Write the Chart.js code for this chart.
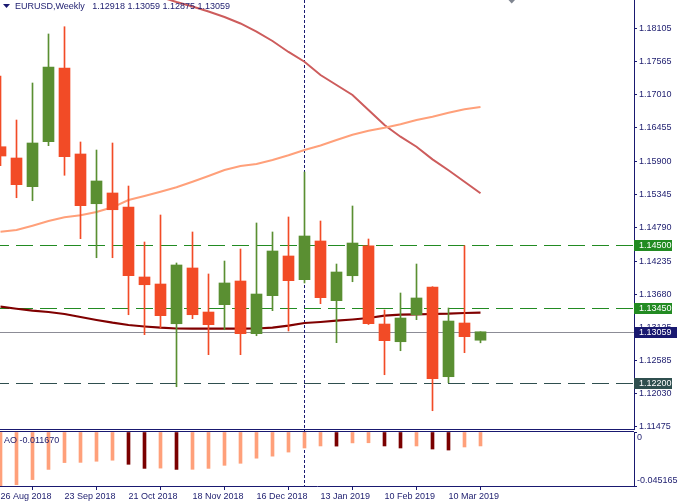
<!DOCTYPE html>
<html><head><meta charset="utf-8">
<script src="https://cdn.jsdelivr.net/npm/chart.js@4.4.1/dist/chart.umd.min.js"></script>
<style>
html,body{margin:0;padding:0;background:#fff;}
#wrap{position:relative;width:678px;height:504px;overflow:hidden;background:#fff;}
#c1{position:absolute;left:0;top:0;}
#c2{position:absolute;left:0;top:430px;}
.t{position:absolute;font-family:"Liberation Sans",Arial,sans-serif;font-size:9px;color:#1c1c6e;white-space:pre;line-height:11px;}
</style></head><body>
<div id="wrap">
<canvas id="c1" width="678" height="430"></canvas>
<canvas id="c2" width="678" height="74"></canvas>
<div class="t" style="left:15px;top:1px;">EURUSD,Weekly   1.12918 1.13059 1.12875 1.13059</div>
<div class="t" style="left:4px;top:435px;">AO -0.011670</div>
</div>
<script>
// ---- data ----
const weeks = ["26 Aug 2018","2 Sep 2018","9 Sep 2018","16 Sep 2018","23 Sep 2018","30 Sep 2018","7 Oct 2018","14 Oct 2018","21 Oct 2018","28 Oct 2018","4 Nov 2018","11 Nov 2018","18 Nov 2018","25 Nov 2018","2 Dec 2018","9 Dec 2018","16 Dec 2018","23 Dec 2018","30 Dec 2018","6 Jan 2019","13 Jan 2019","20 Jan 2019","27 Jan 2019","3 Feb 2019","10 Feb 2019","17 Feb 2019","24 Feb 2019","3 Mar 2019","10 Mar 2019","17 Mar 2019","24 Mar 2019"];
const open  = [1.16143,1.15955,1.15477,1.16227,1.17455,1.16022,1.15193,1.15372,1.15138,1.13972,1.13855,1.13193,1.14122,1.13388,1.13510,1.13905,1.13027,1.13660,1.14322,1.13927,1.14572,1.13577,1.13993,1.14493,1.13188,1.12893,1.13343,1.13805,1.12310,1.13205,1.12918];
const high  = [1.17322,1.16588,1.17205,1.18022,1.18143,1.16222,1.16088,1.16205,1.15488,1.14555,1.15005,1.14205,1.14722,1.14022,1.14238,1.14438,1.14872,1.14722,1.14972,1.15722,1.14905,1.14188,1.15155,1.14605,1.13422,1.13705,1.14188,1.13810,1.13455,1.14493,1.13059];
const low   = [1.15827,1.15293,1.15243,1.16160,1.15667,1.14610,1.14293,1.14293,1.13343,1.13010,1.13122,1.12143,1.13277,1.12677,1.13093,1.12677,1.12993,1.13410,1.13072,1.13872,1.13527,1.12877,1.13893,1.13180,1.12343,1.12743,1.13260,1.11743,1.12210,1.12710,1.12875];
const close = [1.15988,1.15510,1.16205,1.17472,1.15977,1.15160,1.15572,1.15093,1.13993,1.13843,1.13327,1.14172,1.13343,1.13177,1.13872,1.13027,1.13688,1.14405,1.13910,1.14655,1.13627,1.14055,1.14538,1.13193,1.12910,1.13288,1.13622,1.12277,1.13238,1.12977,1.13059];
const maMaroon = [1.13477,1.13443,1.13410,1.13388,1.13355,1.13305,1.13255,1.13210,1.13172,1.13147,1.13127,1.13113,1.13110,1.13110,1.13110,1.13110,1.13113,1.13127,1.13160,1.13205,1.13222,1.13243,1.13263,1.13288,1.13327,1.13343,1.13350,1.13355,1.13360,1.13372,1.13377];
const maSalmon = [1.14727,1.14755,1.14827,1.14905,1.14967,1.15000,1.15055,1.15133,1.15255,1.15322,1.15393,1.15467,1.15560,1.15655,1.15755,1.15822,1.15855,1.15922,1.16000,1.16088,1.16163,1.16255,1.16343,1.16410,1.16460,1.16517,1.16588,1.16643,1.16710,1.16767,1.16805];
const maRed = [null,null,null,null,null,null,null,null,null,1.18722,1.18638,1.18555,1.18480,1.18397,1.18305,1.18197,1.18063,1.17905,1.17722,1.17560,1.17338,1.17172,1.17005,1.16755,1.16505,1.16310,1.16143,1.15933,1.15750,1.15560,1.15367];
const ao = [-0.04510,-0.04408,-0.03981,-0.03129,-0.02558,-0.02540,-0.02447,-0.02361,-0.02702,-0.03043,-0.03020,-0.03129,-0.03120,-0.03043,-0.02788,-0.02617,-0.02191,-0.02020,-0.01679,-0.01338,-0.01168,-0.01180,-0.00912,-0.00900,-0.01168,-0.01338,-0.01168,-0.01424,-0.01509,-0.01253,-0.01167];
const priceTicks = [1.18105,1.17565,1.17010,1.16455,1.15900,1.15345,1.14790,1.14235,1.13680,1.13125,1.12585,1.12030,1.11475];
const aoTicks = [0,-0.045165];
const greenLevels = [1.14500,1.13450];
const slateLevels = [1.12200];
const lastPrice = 1.13059;
const markerWeek = 19;

// ---- style ----
const GREEN='#5A8F32', RED='#F24B26', NAVY='#1c1c6e';
Chart.defaults.font.family = '"Liberation Sans", Arial, sans-serif';
Chart.defaults.font.size = 9;
Chart.defaults.color = NAVY;
const idx = weeks.map((_,i)=>i);
const cCol = idx.map(i=> close[i]>=open[i] ? GREEN : RED);
const aoCol = idx.map(i=> (i===0 || ao[i]>ao[i-1]) ? '#FFA07A' : '#7A0000');
const XMIN=-0.03125, XMAX=39.59375;

function hline(ctx, area, y, color, dash){
  ctx.save(); ctx.strokeStyle=color; ctx.lineWidth=1; ctx.setLineDash(dash||[]); ctx.lineDashOffset=8;
  const yy=Math.round(y)+0.5; ctx.beginPath(); ctx.moveTo(area.left,yy); ctx.lineTo(area.right,yy); ctx.stroke(); ctx.restore();
}
function vdash(ctx, x, y0, y1){
  ctx.save(); ctx.strokeStyle='#191970'; ctx.lineWidth=1; ctx.setLineDash([3,2]);
  const xx=Math.floor(x)+0.5; ctx.beginPath(); ctx.moveTo(xx,y0); ctx.lineTo(xx,y1); ctx.stroke(); ctx.restore();
}

const mainPlugin = {
  id:'mainDeco',
  beforeDatasetsDraw(chart){
    const {ctx, chartArea:a, scales:{x,y}} = chart;
    greenLevels.forEach(v=>hline(ctx,a,y.getPixelForValue(v),'#228B22',[17,7]));
    slateLevels.forEach(v=>hline(ctx,a,y.getPixelForValue(v),'#2F4F4F',[17,7]));
    hline(ctx,a,y.getPixelForValue(lastPrice),'#8C8C96',[]);
    vdash(ctx, x.getPixelForValue(markerWeek), 0, a.bottom);
  },
  afterDraw(chart){
    const {ctx, chartArea:a, scales:{x,y}} = chart;
    ctx.save();
    // bottom border
    ctx.strokeStyle='#191970'; ctx.lineWidth=1; ctx.beginPath(); ctx.moveTo(0,429.5); ctx.lineTo(a.right,429.5); ctx.stroke();
    // axis boxes
    ctx.font='9px "Liberation Sans", Arial, sans-serif'; ctx.textBaseline='middle'; ctx.textAlign='left';
    const box=(v,col,w)=>{const py=Math.round(y.getPixelForValue(v)); ctx.fillStyle=col; ctx.fillRect(a.right,py-5,w,11); ctx.fillStyle='#fff'; ctx.fillText(v.toFixed(5),a.right+5,py+0.5);};
    greenLevels.forEach(v=>box(v,'#228B22',38));
    slateLevels.forEach(v=>box(v,'#2F4F4F',38));
    box(lastPrice,'#191970',43);
    // title triangle
    ctx.fillStyle='#191970'; ctx.beginPath(); ctx.moveTo(3,4); ctx.lineTo(10,4); ctx.lineTo(6.5,8); ctx.closePath(); ctx.fill();
    // chart shift marker
    ctx.fillStyle='#7f8590'; ctx.beginPath(); ctx.moveTo(508.5,0); ctx.lineTo(515,0); ctx.lineTo(511.7,3.5); ctx.closePath(); ctx.fill();
    ctx.restore();
  }
};

new Chart(document.getElementById('c1'), {
  type:'bar',
  data:{datasets:[
    {type:'bar', data: idx.map(i=>({x:i,y:[open[i],close[i]]})), backgroundColor:cCol, borderWidth:0, barThickness:11, grouped:false, minBarLength:1, order:0},
    {type:'bar', data: idx.map(i=>({x:i,y:[low[i],high[i]]})), backgroundColor:cCol, borderWidth:0, barThickness:1, grouped:false, order:1},
    {type:'line', data: idx.map(i=>({x:i,y:maMaroon[i]})), borderColor:'#800000', borderWidth:2.2, pointRadius:0, tension:0, order:2},
    {type:'line', data: idx.map(i=>({x:i,y:maSalmon[i]})), borderColor:'#FFA07A', borderWidth:2, pointRadius:0, tension:0, order:3},
    {type:'line', data: idx.map(i=>({x:i,y:maRed[i]})), borderColor:'#CD5C5C', borderWidth:2, pointRadius:0, tension:0, order:4}
  ]},
  options:{
    responsive:false, animation:false, events:[],
    layout:{padding:0},
    plugins:{legend:{display:false}, tooltip:{enabled:false}},
    scales:{
      x:{type:'linear', offset:false, min:XMIN, max:XMAX, display:false},
      y:{position:'right', min:1.114217, max:1.185883,
         afterBuildTicks(s){ s.ticks = priceTicks.map(v=>({value:v})); },
         afterFit(s){ s.width=44; s.paddingTop=0; s.paddingBottom=0; },
         ticks:{color:NAVY, padding:2, autoSkip:false, callback:(v)=>Number(v).toFixed(5)},
         grid:{drawOnChartArea:false, drawTicks:true, tickLength:3, color:'#191970'},
         border:{display:true, color:'#191970'}}
    }
  },
  plugins:[mainPlugin]
});

const aoPlugin = {
  id:'aoDeco',
  beforeDatasetsDraw(chart){
    const {ctx, chartArea:a, scales:{x}} = chart;
    vdash(ctx, x.getPixelForValue(markerWeek), 0, a.bottom);
  },
  afterDraw(chart){
    const {ctx, chartArea:a} = chart;
    ctx.save(); ctx.strokeStyle='#191970'; ctx.lineWidth=1;
    ctx.beginPath(); ctx.moveTo(0,1.5); ctx.lineTo(a.right,1.5); ctx.stroke();
    ctx.restore();
  }
};

new Chart(document.getElementById('c2'), {
  type:'bar',
  data:{datasets:[
    {data: idx.map(i=>({x:i,y:ao[i]})), backgroundColor:aoCol, borderWidth:0, barThickness:3, grouped:false}
  ]},
  options:{
    responsive:false, animation:false, events:[],
    layout:{padding:{top:2,left:0,right:0,bottom:0}},
    plugins:{legend:{display:false}, tooltip:{enabled:false}},
    scales:{
      x:{type:'linear', offset:false, min:XMIN, max:XMAX, position:'bottom',
         afterBuildTicks(s){ s.ticks = idx.filter(i=>i%4===0).map(i=>({value:i})); },
         afterFit(s){ s.height=18; s.paddingLeft=0; s.paddingRight=0; },
         ticks:{color:NAVY, align:'start', padding:1, maxRotation:0, minRotation:0, autoSkip:false, callback:(v)=>weeks[v]},
         grid:{drawOnChartArea:false, drawTicks:true, tickLength:4, color:'#191970'},
         border:{display:true, color:'#191970'}},
      y:{position:'right', min:-0.045165, max:0,
         afterBuildTicks(s){ s.ticks = aoTicks.map(v=>({value:v})); },
         afterFit(s){ s.width=44; s.paddingTop=0; s.paddingBottom=0; },
         ticks:{color:NAVY, padding:0, autoSkip:false, callback:(v,i)=> i===0 ? ['', '0'] : [String(aoTicks[i]), '']},
         grid:{drawOnChartArea:false, drawTicks:true, tickLength:3, color:'#191970'},
         border:{display:true, color:'#191970'}}
    }
  },
  plugins:[aoPlugin]
});
</script>
</body></html>
